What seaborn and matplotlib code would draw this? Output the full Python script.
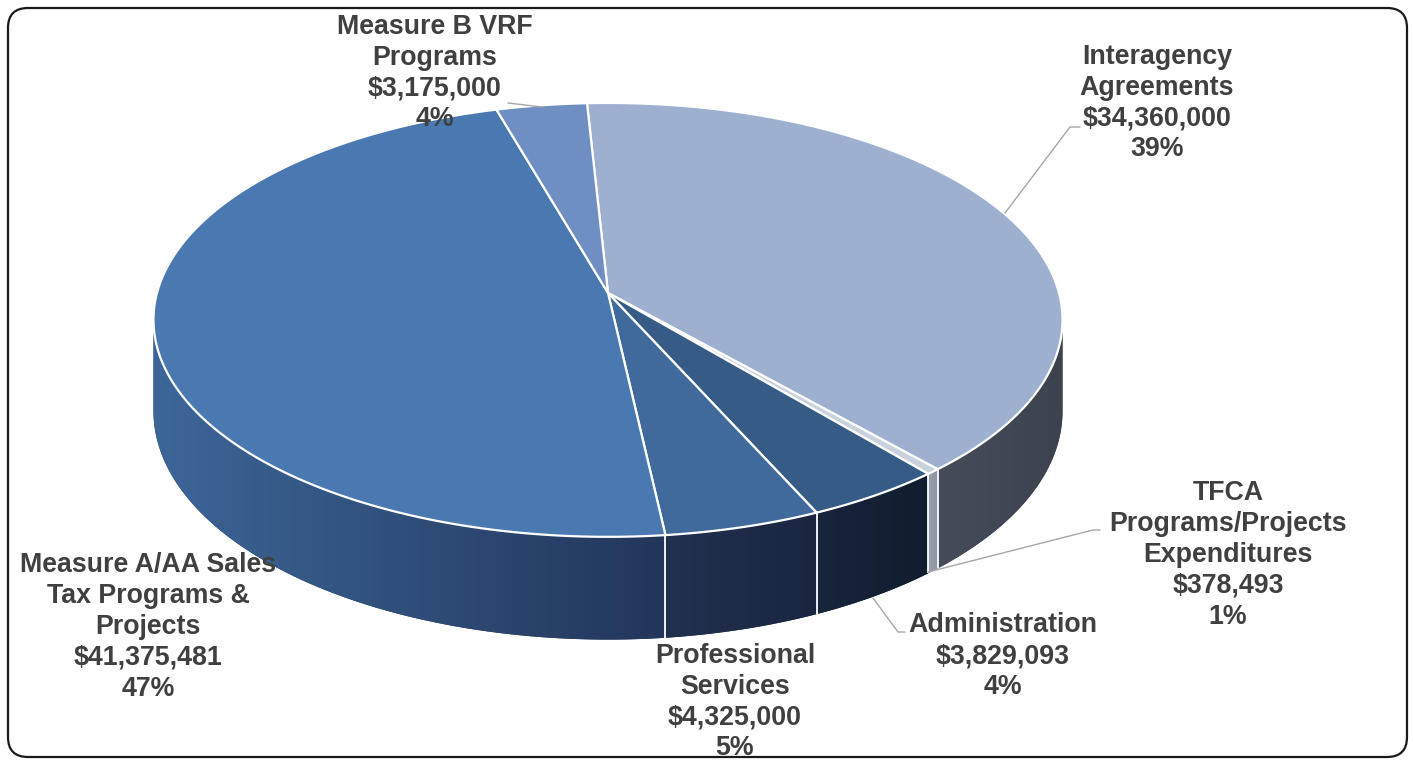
import numpy as np
import matplotlib
matplotlib.use("Agg")
import matplotlib.pyplot as plt
from matplotlib.patches import Polygon, FancyBboxPatch
import seaborn as sns

# Budget categories, listed clockwise from the top of the pie
categories = [
    "Interagency\nAgreements",
    "TFCA\nPrograms/Projects\nExpenditures",
    "Administration",
    "Professional\nServices",
    "Measure A/AA Sales\nTax Programs &\nProjects",
    "Measure B VRF\nPrograms",
]
amounts = [34360000, 378493, 3829093, 4325000, 41375481, 3175000]
pct_labels = ["39%", "1%", "4%", "5%", "47%", "4%"]

top_colors = ["#9DB0D0", "#C9D1DE", "#365B87", "#3F6A9B", "#4A78B1", "#6F8FC2"]
# side shading: (left colour, right colour) across each slice's wall
side_colors = [
    ("#464C59", "#3C424E"),
    ("#9AA1AC", "#8C94A0"),
    ("#17253D", "#111C2E"),
    ("#213150", "#1A2640"),
    ("#3D6699", "#22365A"),
    ("#4A70A4", "#4A70A4"),
]

sns.set_theme(style="white")
plt.rcParams["font.family"] = ["Liberation Sans", "DejaVu Sans"]

W, H = 1413, 761
fig = plt.figure(figsize=(W / 100, H / 100), dpi=100)
ax = fig.add_axes([0, 0, 1, 1])
ax.set_xlim(0, W)
ax.set_ylim(H, 0)
ax.axis("off")

# pie geometry (pixel space, perspective tilt)
cx, cy = 608, 293
rx, ry = 451, 213.6
persp = 0.124
depth = 90
start = -3.0


def project(theta_deg):
    t = np.radians(theta_deg)
    u, v = np.sin(t), -np.cos(t)
    s = 1.0 / (1.0 - persp * v)
    return cx + rx * u * s, cy + ry * v * s, depth * s, v


values = np.asarray(amounts, dtype=float)
spans = values / values.sum() * 360.0
edges = start + np.concatenate([[0], np.cumsum(spans)])

# visible wall runs between the two silhouette points of the rim
front_lo = np.degrees(np.arccos(-persp))
front_hi = 360.0 - front_lo

for i in range(len(values)):
    a0, a1 = max(edges[i], front_lo), min(edges[i + 1], front_hi)
    if a1 <= a0:
        continue
    th = np.linspace(a0, a1, max(3, int((a1 - a0) / 0.25)))
    xs, ys, ds, vs = project(th)
    poly = np.vstack([np.column_stack([xs, ys]),
                      np.column_stack([xs[::-1], (ys + ds)[::-1]])])
    x0, x1 = poly[:, 0].min(), poly[:, 0].max()
    y0, y1 = poly[:, 1].min(), poly[:, 1].max()
    pal = sns.blend_palette([side_colors[i][0], side_colors[i][1]], n_colors=256)
    img = np.array(pal)[None, :, :3].repeat(2, axis=0)
    patch = Polygon(poly, closed=True, facecolor=side_colors[i][1],
                    edgecolor="none", zorder=2)
    ax.add_patch(patch)
    im = ax.imshow(img, extent=(x0 - 0.5, x1 + 0.5, y1 + 0.5, y0 - 0.5),
                   aspect="auto", interpolation="bilinear", zorder=2.5)
    im.set_clip_path(patch)

# white seams where slices meet on the front wall
for a in edges:
    x, y, d, v = project(a)
    if v > 0:
        ax.plot([x, x], [y, y + d], color="white", lw=1.3, zorder=3,
                solid_capstyle="butt")

# top face wedges
for i in range(len(values)):
    th = np.linspace(edges[i], edges[i + 1], 200)
    xs, ys, _, _ = project(th)
    pts = [(cx, cy)] + list(zip(xs, ys))
    ax.add_patch(Polygon(pts, closed=True, facecolor=top_colors[i],
                         edgecolor="white", linewidth=1.6, joinstyle="round",
                         zorder=4))

# data labels
label_pos = [(1157, 103), (1228, 555), (1003, 656), (735, 702), (148, 627), (435, 73)]
for i, (lx, ly) in enumerate(label_pos):
    txt = f"{categories[i]}\n${amounts[i]:,.0f}\n{pct_labels[i]}"
    ax.text(lx, ly, txt, ha="center", va="center", fontsize=19.3,
            fontweight="bold", color="#404040", linespacing=1.24, zorder=6)

# leader lines
leaders = [
    [(1005, 213), (1070, 127), (1080, 127)],
    [(928, 572), (1093, 530), (1100, 530)],
    [(873, 598), (898, 632), (905, 632)],
    [(508, 103), (542, 107)],
]
for seg in leaders:
    xs, ys = zip(*seg)
    ax.plot(xs, ys, color="#A6A6A6", lw=1.0, zorder=5)

# rounded frame
frame = FancyBboxPatch((8, 8), 1399, 749, boxstyle="round,pad=0,rounding_size=20",
                       facecolor="none", edgecolor="#1A1A1A", linewidth=1.6, zorder=7)
ax.add_patch(frame)

fig.savefig("out.png", dpi=100, facecolor="white")
